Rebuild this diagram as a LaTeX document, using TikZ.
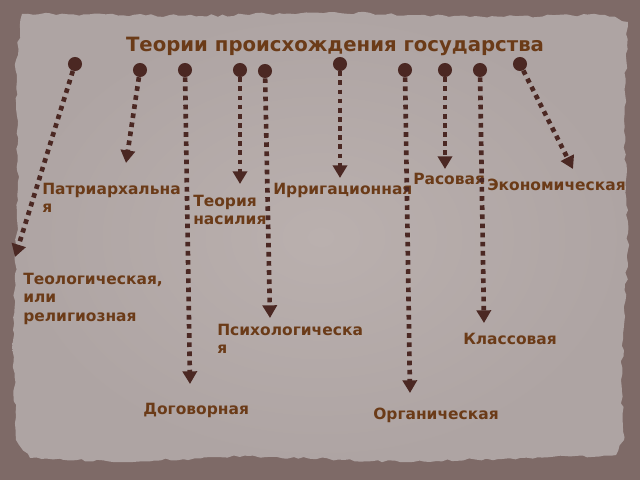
\documentclass[tikz,border=0pt]{standalone}
\usepackage{fontspec}
\setmainfont{DejaVu Sans}
\usetikzlibrary{arrows.meta,positioning,decorations.pathmorphing}

\definecolor{wallcol}{HTML}{7E6A67}
\definecolor{papercol}{HTML}{AEA4A3}
\definecolor{paperlight}{HTML}{BAB0AE}
\definecolor{pincol}{HTML}{4B2823}
\definecolor{labelcol}{HTML}{6B3B18}

\tikzset{
  pinhead/.style={circle,fill=pincol,inner sep=0pt,minimum size=10pt},
  theory/.style={font=\bfseries\fontsize{11}{13}\selectfont,text=labelcol,
    anchor=north west,inner sep=0pt,align=left},
  link/.style={pincol,line width=3.3pt,dash pattern=on 3.3pt off 3.2pt,
    -{Triangle[width=10pt,length=9pt]}},
}

\begin{document}
\begin{tikzpicture}[x=0.025cm,y=-0.025cm]
            \pgfmathsetseed{7}
            \useasboundingbox (0,0) rectangle (640,480);
            \fill[wallcol] (0,0) rectangle (640,480);

            % torn paper sheet
            \shade[inner color=paperlight,outer color=papercol,
              decorate,decoration={random steps,segment length=4pt,amplitude=1pt}]
              (22,14) -- (200,16) -- (330,12) -- (470,17) -- (605,15) -- (628,22)
              -- (624,120) -- (628,250) -- (621,380) -- (624,440) -- (616,455)
              -- (520,458) -- (400,462) -- (250,456) -- (120,462) -- (30,458)
              -- (16,440) -- (13,330) -- (18,200) -- (16,60) -- cycle;

            \node[font=\bfseries\fontsize{14}{16}\selectfont,text=labelcol,anchor=base]
              (title) at (335,52) {Теории происхождения государства};

            \node[theory] (patriarch) at (42,183) {Патриархальна\\я};
            \node[theory] (violence) at (193,195) {Теория\\насилия};
            \node[theory] (irrig) at (273,183) {Ирригационная};
            \node[theory] (race) at (413,173) {Расовая};
            \node[theory] (econ) at (487,179) {Экономическая};
            \node[theory] (theol) at (23,273) {Теологическая,\\или\\религиозная};
            \node[theory] (psych) at (217,324) {Психологическа\\я};
            \node[theory] (contract) at (143,403) {Договорная};
            \node[theory] (class) at (463,333) {Классовая};
            \node[theory] (organic) at (373,408) {Органическая};

            \foreach \n/\px/\py/\ex/\ey in {1/75/64/15/257, 2/140/70/126/163,
              3/185/70/190/384, 4/240/70/240/184, 5/265/71/270/318,
              6/340/64/340/178, 7/405/70/410/393, 8/445/70/445/169,
              9/480/70/484/323, 10/520/64/573/169}
	   {
                \node[pinhead] (p\n) at (\px,\py) {};
                \coordinate (e\n) at (\ex,\ey);
              }

            \foreach \from/\to in {p1/e1, p2/e2, p3/e3, p4/e4, p5/e5, p6/e6, p7/e7, p8/e8, p9/e9, p10/e10}
	   {
                \draw[link] (\from) -- (\to);
              }

        \end{tikzpicture}
\end{document}
